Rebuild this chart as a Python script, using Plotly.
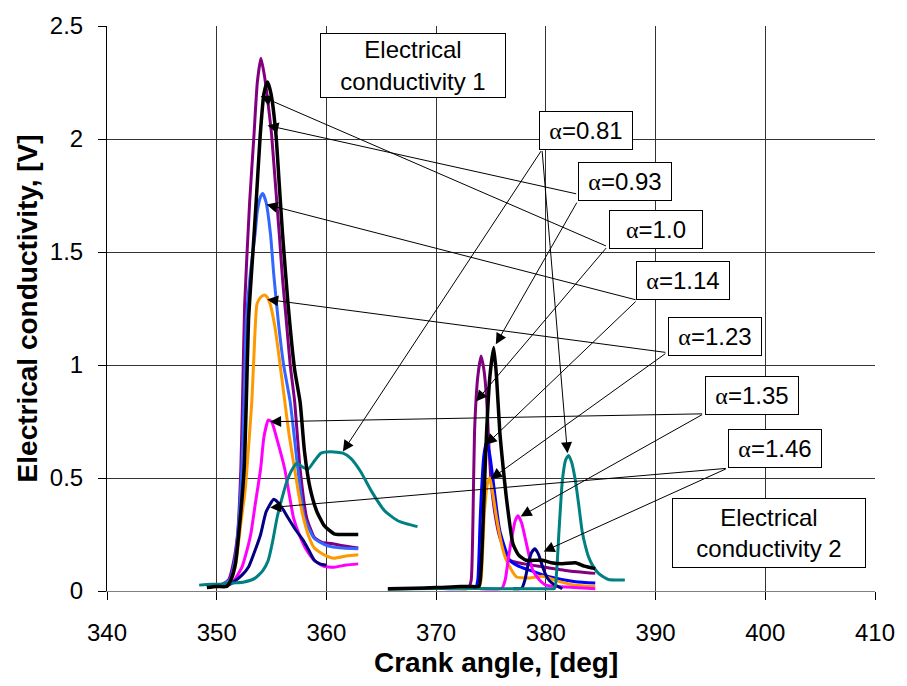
import plotly.graph_objects as go

# ---- Crank angle [deg] / electrical conductivity [V] for each excess-air ratio ----
# Left branch: "Electrical conductivity 1" ; right branch: "Electrical conductivity 2"

a081_l_x = [348.4, 349.5, 350.5, 351.5, 352.5, 353.5, 354.2, 354.7, 355.1, 355.5, 356.0, 356.4, 356.9, 357.3,
            357.8, 358.3, 358.9, 359.5, 360.4, 361.5, 362.2, 363.1, 364.1, 365.3, 366.5, 367.5, 368.3]
a081_l_y = [0.026, 0.03, 0.03, 0.035, 0.04, 0.057, 0.09, 0.136, 0.22, 0.324, 0.42, 0.486, 0.54, 0.565,
            0.55, 0.538, 0.575, 0.61, 0.616, 0.61, 0.588, 0.53, 0.442, 0.355, 0.311, 0.295, 0.285]
a081_r_x = [365.6, 368.0, 372.0, 376.0, 380.0, 380.8, 381.0, 381.2, 381.5, 381.8, 382.06, 382.35, 382.7, 383.0,
            383.3, 383.6, 383.9, 384.3, 384.8, 385.7, 387.2]
a081_r_y = [0.008, 0.01, 0.012, 0.01, 0.01, 0.012, 0.1, 0.267, 0.486, 0.58, 0.60, 0.57, 0.486, 0.38,
            0.267, 0.2, 0.15, 0.11, 0.078, 0.051, 0.049]

a093_l_x = [349.1, 350.0, 350.9, 351.3, 351.7, 352.0, 352.5, 352.7, 352.9, 353.3, 353.6, 353.97, 354.3, 354.63,
            354.95, 355.4, 355.7, 356.0, 356.5, 357.1, 357.6, 358.0, 358.5, 359.1, 359.8, 360.7, 361.3, 362.9]
a093_l_y = [0.015, 0.02, 0.02, 0.05, 0.12, 0.25, 0.54, 0.84, 1.2, 1.5, 1.725, 2.02, 2.2, 2.252,
            2.2, 2.02, 1.8, 1.58, 1.27, 0.98, 0.836, 0.617, 0.457, 0.355, 0.289, 0.253, 0.25, 0.25]
a093_r_x = [365.6, 368.0, 370.0, 372.2, 373.1, 373.9, 374.1, 374.35, 374.6, 374.9, 375.25, 375.5, 375.8, 376.1,
            376.4, 377.0, 377.5, 378.2, 379.7, 380.5, 381.5, 382.7, 383.5, 384.5]
a093_r_y = [0.01, 0.012, 0.015, 0.02, 0.02, 0.02, 0.1, 0.4, 0.705, 0.95, 1.077, 0.95, 0.705, 0.55,
            0.413, 0.209, 0.16, 0.136, 0.136, 0.125, 0.121, 0.125, 0.11, 0.099]

a100_l_x = [349.5, 350.5, 351.1, 351.5, 351.9, 352.2, 352.35, 352.55, 353.0, 353.4, 353.7, 354.03, 354.35, 354.7,
            355.0, 355.35, 355.7, 356.0, 356.3, 356.7, 357.1, 357.6, 358.2, 358.9, 359.6, 360.5, 361.5, 362.9]
a100_l_y = [0.02, 0.03, 0.05, 0.12, 0.25, 0.54, 0.84, 1.27, 1.72, 2.02, 2.25, 2.357, 2.28, 2.15,
            2.02, 1.80, 1.58, 1.38, 1.22, 1.0, 0.84, 0.54, 0.324, 0.237, 0.215, 0.21, 0.20, 0.19]
a100_r_x = [369.0, 372.0, 373.0, 373.2, 373.35, 373.5, 373.8, 374.1, 374.35, 374.6, 374.8, 375.0, 375.4, 375.8,
            376.7, 378.0, 379.7, 382.0, 384.5]
a100_r_y = [0.012, 0.015, 0.02, 0.05, 0.3, 0.705, 0.95, 1.04, 0.98, 0.85, 0.65, 0.486, 0.33, 0.238,
            0.136, 0.12, 0.107, 0.09, 0.078]

a114_l_x = [350.0, 351.2, 351.7, 352.0, 352.3, 352.5, 352.7, 353.1, 353.5, 353.7, 354.0, 354.2, 354.5, 354.9,
            355.2, 355.6, 356.1, 356.7, 357.4, 358.0, 358.9, 360.1, 361.5, 362.9]
a114_l_y = [0.02, 0.05, 0.15, 0.3, 0.54, 0.85, 1.2, 1.42, 1.58, 1.68, 1.745, 1.759, 1.72, 1.58,
            1.4, 1.2, 1.0, 0.836, 0.54, 0.324, 0.232, 0.2, 0.19, 0.187]
a114_r_x = [370.0, 373.6, 373.8, 374.0, 374.1, 374.35, 374.6, 374.9, 375.2, 375.8, 376.7, 377.5, 378.5, 380.3,
            382.7, 384.5]
a114_r_y = [0.012, 0.015, 0.05, 0.3, 0.413, 0.6, 0.661, 0.6, 0.486, 0.267, 0.136, 0.11, 0.092, 0.063,
            0.041, 0.035]

a123_l_x = [350.0, 351.2, 351.7, 352.2, 352.6, 353.2, 353.4, 353.67, 354.0, 354.36, 354.6, 354.87, 355.3, 355.7,
            356.2, 356.6, 357.1, 357.5, 357.9, 358.4, 358.9, 359.8, 360.7, 361.8, 362.9]
a123_l_y = [0.02, 0.04, 0.11, 0.3, 0.45, 0.84, 1.05, 1.27, 1.30, 1.31, 1.30, 1.27, 1.17, 1.03,
            0.84, 0.69, 0.54, 0.42, 0.324, 0.24, 0.19, 0.16, 0.145, 0.155, 0.16]
a123_r_x = [371.0, 373.9, 374.1, 374.4, 374.7, 374.9, 375.2, 375.5, 376.0, 376.4, 377.3, 378.5, 379.7, 381.0,
            382.7, 384.5]
a123_r_y = [0.012, 0.015, 0.05, 0.35, 0.48, 0.50, 0.42, 0.325, 0.2, 0.136, 0.063, 0.058, 0.065, 0.045,
            0.026, 0.02]

a135_l_x = [350.5, 351.4, 352.3, 352.7, 353.1, 353.5, 354.0, 354.3, 354.7, 355.0, 355.5, 356.2, 357.0, 357.6,
            358.2, 358.9, 359.7, 360.7, 361.8, 362.9]
a135_l_y = [0.02, 0.035, 0.106, 0.17, 0.25, 0.38, 0.54, 0.68, 0.756, 0.75, 0.67, 0.54, 0.324, 0.24,
            0.18, 0.135, 0.11, 0.105, 0.115, 0.12]
a135_r_x = [374.0, 376.0, 376.3, 376.6, 376.9, 377.2, 377.46, 377.8, 378.1, 378.5, 378.8, 379.4, 380.0, 382.7,
            384.5]
a135_r_y = [0.01, 0.012, 0.05, 0.15, 0.238, 0.31, 0.333, 0.3, 0.238, 0.15, 0.092, 0.05, 0.026, 0.015,
            0.01]

a146_l_x = [351.0, 351.4, 352.3, 352.9, 353.5, 354.0, 354.5, 355.2, 355.8, 356.5, 357.2, 357.9, 358.4, 358.9,
            359.4, 360.0]
a146_l_y = [0.025, 0.035, 0.07, 0.106, 0.18, 0.25, 0.35, 0.406, 0.38, 0.324, 0.27, 0.223, 0.18, 0.136,
            0.12, 0.114]
a146_r_x = [377.0, 377.8, 378.1, 378.4, 378.7, 379.0, 379.35, 379.7, 380.1, 380.6, 381.5]
a146_r_y = [0.01, 0.012, 0.05, 0.121, 0.17, 0.187, 0.16, 0.107, 0.06, 0.034, 0.01]

# Label text, box centre, and arrow tail/heads (left branch, right branch)
alpha_labels = ["0.81", "0.93", "1.0", "1.14", "1.23", "1.35", "1.46"]
label_x = [383.67, 387.24, 390.0, 392.48, 395.46, 398.76, 400.88]
label_y = [2.038, 1.813, 1.598, 1.373, 1.127, 0.865, 0.630]
tail_l = [(379.65, 1.953), (382.9, 1.756), (385.61, 1.524), (388.32, 1.287), (391.03, 1.055), (394.38, 0.784), (396.54, 0.543)]
tail_r = [(379.65, 1.953), (382.9, 1.725), (385.61, 1.524), (388.32, 1.287), (391.03, 1.055), (394.38, 0.784), (396.54, 0.543)]
head_l = [(361.5, 0.617), (354.63, 2.06), (354.0, 2.19), (354.54, 1.71), (354.6, 1.29), (354.87, 0.749), (354.87, 0.369)]
head_r = [(381.97, 0.61), (375.44, 1.092), (373.63, 0.839), (374.53, 0.647), (374.99, 0.496), (377.7, 0.33), (379.8, 0.175)]

x_ticks = [340, 350, 360, 370, 380, 390, 400, 410]
y_ticks = [0, 0.5, 1, 1.5, 2, 2.5]
y_tick_text = ["0", "0.5", "1", "1.5", "2", "2.5"]

FONT = "Arial, Liberation Sans, sans-serif"

series = [
    # (left x, left y, left colour, right x, right y, right colour, width)
    (a100_l_x, a100_l_y, "#800080", a100_r_x, a100_r_y, "#800080", 3),
    (a114_l_x, a114_l_y, "#3366FF", a114_r_x, a114_r_y, "#0000FF", 3),
    (a123_l_x, a123_l_y, "#FF9900", a123_r_x, a123_r_y, "#FF9900", 3),
    (a135_l_x, a135_l_y, "#FF00FF", a135_r_x, a135_r_y, "#FF00FF", 3),
    (a146_l_x, a146_l_y, "#000080", a146_r_x, a146_r_y, "#000080", 3),
    (a081_l_x, a081_l_y, "#008080", a081_r_x, a081_r_y, "#008080", 3),
    (a093_l_x, a093_l_y, "#000000", a093_r_x, a093_r_y, "#000000", 3.5),
]

fig = go.Figure()
for lx, ly, lc, rx, ry, rc, w in series:
    for xs, ys, c in ((lx, ly, lc), (rx, ry, rc)):
        fig.add_trace(go.Scatter(
            x=xs, y=ys, mode="lines",
            line=dict(color=c, width=w, shape="spline", smoothing=0.5),
            showlegend=False, hoverinfo="skip",
        ))

annotations = []
box_style = dict(xref="x", yref="y", showarrow=False, bgcolor="white",
                 bordercolor="black", borderwidth=1, borderpad=2,
                 font=dict(family=FONT, size=24, color="black"),
                 xanchor="center", yanchor="middle")

for lab, bx, by in zip(alpha_labels, label_x, label_y):
    annotations.append(dict(
        x=bx, y=by,
        text="<span style='font-family:Liberation Serif'>α</span>=" + lab,
        width=88, height=33, **box_style))

annotations.append(dict(x=367.9, y=2.327, text="Electrical<br>conductivity 1",
                        width=180, height=59, **box_style))
annotations.append(dict(x=400.34, y=0.258, text="Electrical<br>conductivity 2",
                        width=188, height=64, **box_style))

for tails, heads in ((tail_l, head_l), (tail_r, head_r)):
    for (tx, ty), (hx, hy) in zip(tails, heads):
        annotations.append(dict(
            x=hx, y=hy, ax=tx, ay=ty, xref="x", yref="y", axref="x", ayref="y",
            text="", showarrow=True, arrowhead=2, arrowsize=2.2, arrowwidth=1,
            arrowcolor="black"))

# Axis titles
annotations.append(dict(x=0.507, y=-0.126, xref="paper", yref="paper", showarrow=False,
                        text="<b>Crank angle, [deg]</b>", xanchor="center", yanchor="middle",
                        font=dict(family=FONT, size=28, color="black")))
annotations.append(dict(x=-0.103, y=0.5, xref="paper", yref="paper", showarrow=False,
                        text="<b>Electrical conductivity, [V]</b>", textangle=-90,
                        xanchor="center", yanchor="middle",
                        font=dict(family=FONT, size=28, color="black")))

fig.update_layout(
    width=907, height=686,
    margin=dict(l=107, r=25, t=20, b=95),
    paper_bgcolor="white", plot_bgcolor="white",
    annotations=annotations,
    xaxis=dict(range=[340, 410], tickvals=x_ticks, showgrid=True, gridcolor="#333333", gridwidth=1,
               zeroline=False, showline=True, linecolor="#808080", linewidth=1,
               ticks="outside", ticklen=8, tickcolor="black", ticklabelstandoff=12,
               tickfont=dict(family=FONT, size=24, color="black")),
    yaxis=dict(range=[0, 2.5], tickvals=y_ticks, ticktext=y_tick_text, showgrid=True,
               gridcolor="#333333", gridwidth=1, zeroline=False, showline=True,
               linecolor="black", linewidth=1, ticks="outside", ticklen=8, tickcolor="black",
               ticklabelstandoff=10, tickfont=dict(family=FONT, size=24, color="black")),
)

fig.write_html("out.html")
